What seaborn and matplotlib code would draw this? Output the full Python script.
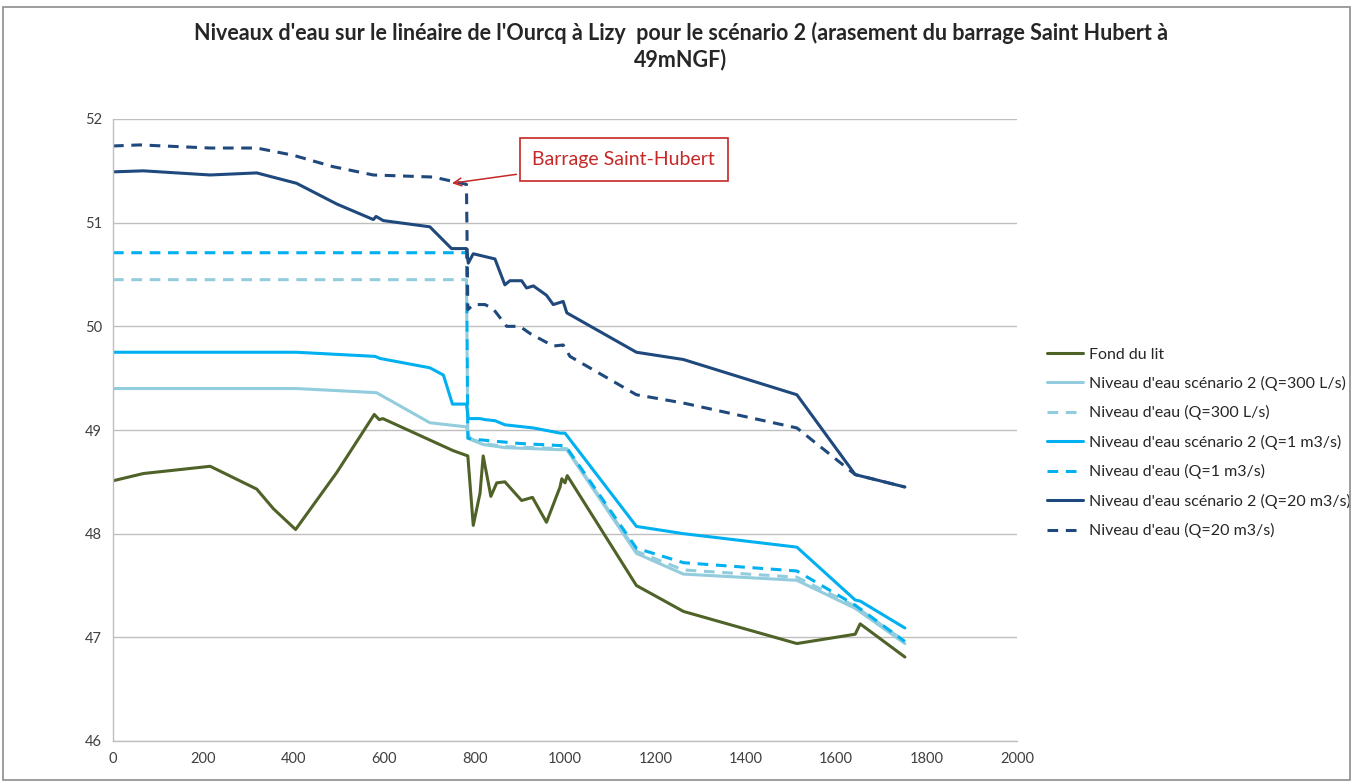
import numpy as np
import pandas as pd
import matplotlib
matplotlib.use("Agg")
import matplotlib.pyplot as plt
import seaborn as sns

# --- donnees ---
x_fond = [0, 67, 215, 318, 355, 404, 495, 578, 589, 597, 753, 785, 797, 812, 819, 836, 849, 867, 904, 928, 959,
          989, 993, 1000, 1005, 1158, 1262, 1513, 1642, 1653, 1752]
y_fond = [48.51, 48.58, 48.65, 48.43, 48.24, 48.04, 48.59, 49.15, 49.10, 49.11, 48.80, 48.75, 48.08, 48.39, 48.75,
          48.36, 48.49, 48.50, 48.32, 48.35, 48.11, 48.45, 48.53, 48.49, 48.56, 47.50, 47.25, 46.94, 47.03, 47.13, 46.81]

x_sc2_300 = [0, 406, 583, 701, 782, 790, 819, 867, 989, 1004, 1158, 1262, 1513, 1642, 1752]
y_sc2_300 = [49.40, 49.40, 49.36, 49.07, 49.03, 48.91, 48.86, 48.83, 48.81, 48.81, 47.81, 47.61, 47.55, 47.28, 46.94]

x_act_300 = [0, 782, 785, 790, 819, 867, 989, 1004, 1158, 1262, 1513, 1642, 1752]
y_act_300 = [50.45, 50.45, 48.93, 48.92, 48.87, 48.84, 48.82, 48.82, 47.83, 47.65, 47.58, 47.30, 46.96]

x_sc2_1 = [0, 406, 580, 591, 701, 731, 751, 782, 786, 812, 823, 845, 867, 930, 989, 1000, 1158, 1262, 1513,
           1642, 1653, 1752]
y_sc2_1 = [49.75, 49.75, 49.71, 49.69, 49.60, 49.53, 49.25, 49.25, 49.11, 49.11, 49.10, 49.09, 49.05, 49.02,
           48.97, 48.97, 48.07, 48.00, 47.87, 47.36, 47.35, 47.09]

x_act_1 = [0, 782, 785, 800, 900, 989, 1000, 1007, 1158, 1262, 1513, 1642, 1752]
y_act_1 = [50.71, 50.71, 48.92, 48.91, 48.87, 48.85, 48.85, 48.81, 47.86, 47.72, 47.64, 47.31, 46.96]

x_sc2_20 = [0, 67, 215, 318, 406, 495, 576, 582, 598, 701, 749, 782, 786, 797, 845, 867, 878, 904, 915, 930,
            959, 974, 996, 1004, 1158, 1262, 1513, 1642, 1752]
y_sc2_20 = [51.49, 51.50, 51.46, 51.48, 51.38, 51.18, 51.03, 51.06, 51.02, 50.96, 50.75, 50.75, 50.61, 50.70,
            50.65, 50.40, 50.44, 50.44, 50.37, 50.39, 50.30, 50.21, 50.24, 50.13, 49.75, 49.68, 49.34, 48.57, 48.45]

x_act_20 = [0, 60, 215, 318, 399, 487, 576, 709, 760, 782, 785, 797, 823, 841, 871, 900, 923, 974, 996, 1011,
            1158, 1262, 1513, 1642, 1752]
y_act_20 = [51.74, 51.75, 51.72, 51.72, 51.65, 51.54, 51.46, 51.44, 51.39, 51.37, 50.16, 50.21, 50.21, 50.17,
            50.00, 50.00, 49.93, 49.81, 49.82, 49.71, 49.34, 49.26, 49.02, 48.57, 48.45]

series = [
    ("Fond du lit", x_fond, y_fond, "#4F6228", "-"),
    ("Niveau d'eau scénario 2 (Q=300 L/s)", x_sc2_300, y_sc2_300, "#93CDDD", "-"),
    ("Niveau d'eau (Q=300 L/s)", x_act_300, y_act_300, "#93CDDD", (0, (3.5, 2.5))),
    ("Niveau d'eau scénario 2 (Q=1 m3/s)", x_sc2_1, y_sc2_1, "#00B0F0", "-"),
    ("Niveau d'eau (Q=1 m3/s)", x_act_1, y_act_1, "#00B0F0", (0, (3.5, 2.5))),
    ("Niveau d'eau scénario 2 (Q=20 m3/s)", x_sc2_20, y_sc2_20, "#1F497D", "-"),
    ("Niveau d'eau (Q=20 m3/s)", x_act_20, y_act_20, "#1F497D", (0, (3.5, 2.5))),
]

sns.set_style("white")
plt.rcParams["font.family"] = ["Lato", "DejaVu Sans"]

fig = plt.figure(figsize=(13.62, 7.83), dpi=100)
ax = fig.add_axes([113 / 1362, 42 / 783, 904 / 1362, 622 / 783])

for nom, xs, ys, col, ls in series:
    df = pd.DataFrame({"x": xs, "y": ys})
    sns.lineplot(data=df, x="x", y="y", ax=ax, sort=False, estimator=None, color=col,
                 linestyle=ls, lw=2.2, label=nom)

ax.set_xlim(0, 2000)
ax.set_ylim(46, 52)
ax.set_xticks(np.arange(0, 2001, 200))
ax.set_yticks(np.arange(46, 53, 1))
ax.yaxis.grid(True, color="#BFBFBF", lw=1)
ax.set_xlabel("")
ax.set_ylabel("")
for s in ["top", "right"]:
    ax.spines[s].set_visible(False)
for s in ["left", "bottom"]:
    ax.spines[s].set_color("#BFBFBF")
    ax.spines[s].set_linewidth(1)
ax.tick_params(axis="both", which="major", length=5, width=1, color="#BFBFBF", direction="out",
               labelsize=10.5, labelcolor="#404040", pad=3)

rouge = "#C62828"
ax.annotate("Barrage Saint-Hubert", xy=(750, 51.38), xytext=(1130, 51.61), textcoords="data",
            ha="center", va="center", fontsize=14, color=rouge,
            bbox=dict(boxstyle="square,pad=0.65", fc="white", ec=rouge, lw=1.2),
            arrowprops=dict(arrowstyle="->", color=rouge, lw=1.1, shrinkB=0))

ax.legend(loc="upper left", bbox_to_anchor=(1033 / 1362, 1 - 333 / 783), bbox_transform=fig.transFigure,
          frameon=False, fontsize=11.5, handlelength=2.2, handletextpad=0.4, labelspacing=0.9)

fig.text(0.5, 1 - 33 / 783,
         "Niveaux d'eau sur le linéaire de l'Ourcq à Lizy  pour le scénario 2 (arasement du barrage Saint Hubert à",
         ha="center", va="center", fontsize=15.5, fontweight="bold")
fig.text(0.5, 1 - 60 / 783, "49mNGF)", ha="center", va="center", fontsize=15.5, fontweight="bold")

# cadre du graphique
fig.patches.append(plt.Rectangle((0.002, 0.004), 0.989, 0.987, transform=fig.transFigure,
                                 fill=False, ec="#8C8C8C", lw=1.2))

fig.savefig("out.png", dpi=100)
